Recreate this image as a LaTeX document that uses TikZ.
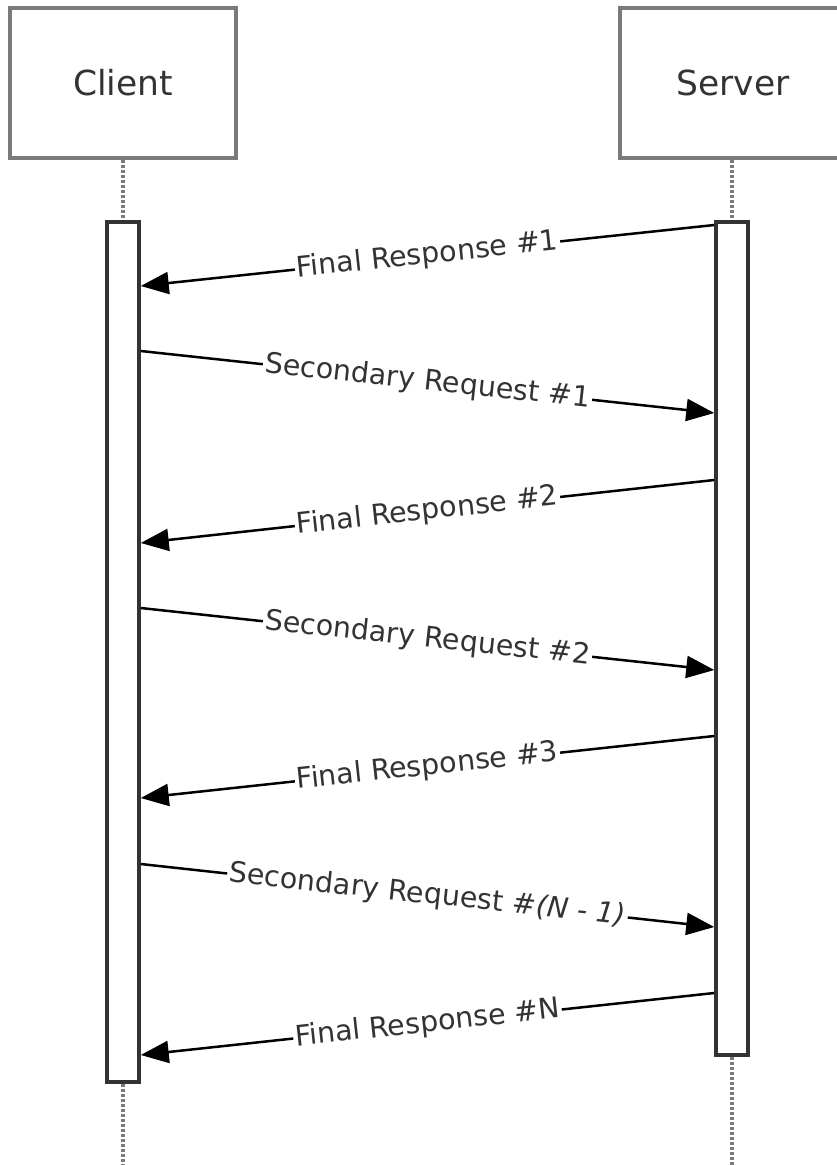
\documentclass[tikz,border=0pt]{standalone}
\usepackage{fontspec}
\setmainfont{DejaVu Sans}
\usetikzlibrary{arrows.meta}
\definecolor{boxgray}{HTML}{7A7A7A}
\definecolor{bardark}{HTML}{333333}
\definecolor{txtgray}{HTML}{333333}
\begin{document}
\begin{tikzpicture}[x=1pt,y=-1pt,
  actor/.style={draw=boxgray, line width=3.5pt, fill=white, minimum width=226pt, minimum height=150pt, inner sep=0pt, font=\fontsize{34.5}{40}\selectfont, text=txtgray},
  actbar/.style={draw=bardark, line width=3.5pt, fill=white, minimum width=32pt, inner sep=0pt},
  lifeline/.style={draw=boxgray, line width=3.5pt, dash pattern=on 3pt off 2pt},
  msg/.style={draw=black, line width=2.5pt, -{Triangle[length=28pt,width=22pt]}},
  lbl/.style={midway, sloped, fill=white, inner sep=2pt, font=\fontsize{28.5}{33}\selectfont, text=txtgray}]
\useasboundingbox (0,0) rectangle (837,1165);
\clip (0,0) rectangle (837,1165);
% actors
\node[actor] (client) at (123,83) {Client};
\node[actor] (server) at (733,83) {Server};
% lifeline ends
\coordinate (cend) at (123,1165);
\coordinate (send) at (732,1165);
% activation bars
\node[actbar, minimum height=860pt] (cbar) at (123,652) {};
\node[actbar, minimum height=833pt] (sbar) at (732,638.5) {};
% lifelines
\draw[lifeline] (client.south) -- (cbar.north);
\draw[lifeline] (cbar.south) -- (cend);
\draw[lifeline] (server.south -| sbar.north) -- (sbar.north);
\draw[lifeline] (sbar.south) -- (send);
% redraw bars over lifelines
\node[actbar, minimum height=860pt] at (123,652) {};
\node[actbar, minimum height=833pt] at (732,638.5) {};
% messages
\draw[msg] (sbar.west |- 0,225) -- node[lbl] {Final Response \#1} (cbar.east |- 0,286);
\draw[msg] (cbar.east |- 0,351) -- node[lbl] {Secondary Request \#1} (sbar.west |- 0,413);
\draw[msg] (sbar.west |- 0,480) -- node[lbl] {Final Response \#2} (cbar.east |- 0,543);
\draw[msg] (cbar.east |- 0,608) -- node[lbl] {Secondary Request \#2} (sbar.west |- 0,670);
\draw[msg] (sbar.west |- 0,736) -- node[lbl] {Final Response \#3} (cbar.east |- 0,798);
\draw[msg] (cbar.east |- 0,864) -- node[lbl] {Secondary Request \#\textit{(N - 1)}} (sbar.west |- 0,927);
\draw[msg] (sbar.west |- 0,993) -- node[lbl] {Final Response \#N} (cbar.east |- 0,1055);
\end{tikzpicture}
\end{document}
